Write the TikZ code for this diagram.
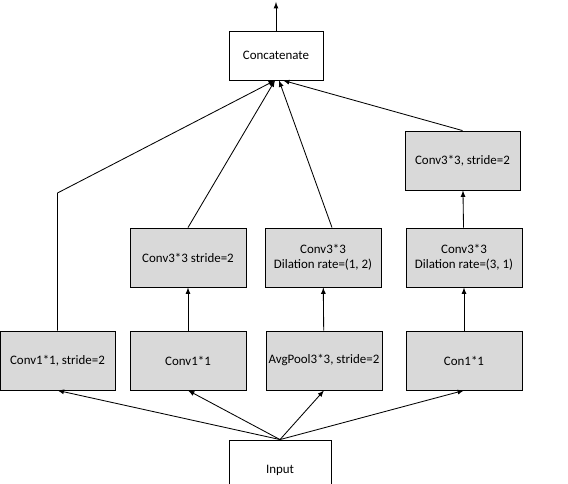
\documentclass[tikz,border=0pt]{standalone}
\usepackage{fontspec}
\setmainfont{Carlito}
\usetikzlibrary{arrows}

\begin{document}
\begin{tikzpicture}[x=0.025cm,y=-0.025cm,line width=0.6pt,
    blk/.style={draw,fill=black!15,minimum width=116*0.025cm,minimum height=59*0.025cm,inner sep=1pt,font=\fontsize{9.2}{11}\selectfont,align=center},
    wblk/.style={blk,fill=white}]
                      \useasboundingbox (0,0) rectangle (568,484);
                      \begin{scope}
                      \clip (-1,-1) rectangle (569,485);
                      \node[wblk,minimum width=94*0.025cm,minimum height=49*0.025cm](concat)at(276,55.5){Concatenate};
                      \node[wblk,minimum width=102*0.025cm,minimum height=60*0.025cm](input)at(280,470){Input};
                      % bottom row
                      \node[blk,minimum width=115*0.025cm](c11s2)at(57.5,360.5){Conv1*1, stride=2};
                      \node[blk](c11)at(188,360.5){Conv1*1};
                      \node[blk](pool)at(324,360.5){AvgPool3*3, stride=2};
                      \node[blk](con11)at(464,360.5){Con1*1};
                      % middle row
                      \node[blk](c33s2)at(188,257.5){Conv3*3 stride=2};
                      \node[blk](dil12)at(323,257.5){Conv3*3\\Dilation rate=(1, 2)};
                      \node[blk](dil31)at(464,257.5){Conv3*3\\Dilation rate=(3, 1)};
                      % top right
                      \node[blk,minimum width=115*0.025cm](c33s2b)at(462.5,160.5){Conv3*3, stride=2};
                      \coordinate(bend)at(57.5,193);
                      \coordinate(out)at(276,2);
                      \end{scope}
                      \draw[-latex](input.north)--(c11s2.south);
                      \draw[-latex](input.north)--(c11.south);
                      \draw[-latex](input.north)--(pool.south);
                      \draw[-latex](input.north)--(con11.south);
                      \draw[-latex](c11)--(c33s2);
                      \draw[-latex](pool)--(dil12);
                      \draw[-latex](con11)--(dil31);
                      \draw[-latex](dil31)--(c33s2b);
                      \draw[-latex](c11s2.north)--(bend)--([xshift=-1*0.025cm]concat.south);
                      \draw[-latex](c33s2.north)--([xshift=-1*0.025cm]concat.south);
                      \draw[-latex]([xshift=9*0.025cm]dil12.north)--([xshift=3*0.025cm]concat.south);
                      \draw[-latex](c33s2b.north)--([xshift=7*0.025cm]concat.south);
                      \draw[-latex](concat)--(out);
                  \end{tikzpicture}
\end{document}
